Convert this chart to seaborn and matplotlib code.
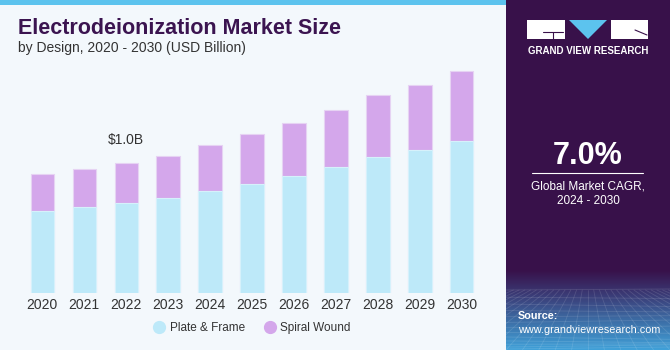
import numpy as np
import pandas as pd
import seaborn as sns
import matplotlib.pyplot as plt
from matplotlib.colors import LinearSegmentedColormap
from matplotlib.lines import Line2D

# data (USD Billion)
years = ["2020", "2021", "2022", "2023", "2024", "2025", "2026", "2027", "2028", "2029", "2030"]
plate_frame = [0.63, 0.66, 0.69, 0.73, 0.785, 0.84, 0.90, 0.97, 1.045, 1.10, 1.17]
spiral_wound = [0.28, 0.29, 0.31, 0.325, 0.35, 0.38, 0.405, 0.435, 0.475, 0.50, 0.535]
segments = ["Plate & Frame", "Spiral Wound"]
colors = ["#BDE9F9", "#D4A7EB"]

df = pd.DataFrame({"year": years, "Plate & Frame": plate_frame, "Spiral Wound": spiral_wound})
df["total"] = df["Plate & Frame"] + df["Spiral Wound"]

sns.set_theme(style="white")
plt.rcParams["font.family"] = ["Liberation Sans", "DejaVu Sans"]

W, H = 670, 350
fig = plt.figure(figsize=(6.7, 3.5), dpi=100)
fig.patch.set_facecolor("#F3F8FC")

# top blue stripe over the left panel
fig.add_artist(plt.Rectangle((0, 1 - 5 / H), 506 / W, 5 / H, transform=fig.transFigure,
                             color="#5CC3EE", lw=0, zorder=-2))

# right purple panel
fig.add_artist(plt.Rectangle((506 / W, 0), 1 - 506 / W, 1, transform=fig.transFigure,
                             color="#38114A", lw=0, zorder=-2))
grad_ax = fig.add_axes([506 / W, 0, 1 - 506 / W, 80 / H])
cmap = LinearSegmentedColormap.from_list("g", ["#40A0D8", "#3D72AA", "#3B3F7A", "#38114A"])
grad_ax.imshow(np.linspace(0, 1, 100).reshape(-1, 1), aspect="auto", cmap=cmap,
               origin="lower", extent=(0, 1, 0, 1))
# faint grid texture
for k in range(14):
    y = (k / 13) ** 1.6 * 0.75
    grad_ax.plot([0, 1], [y, y + 0.03 * np.sin(k)], color="white", alpha=0.12, lw=0.6)
for k in range(-8, 20):
    x0 = k / 10
    grad_ax.plot([x0, 0.5 + (x0 - 0.5) * 0.35], [0, 0.75], color="white", alpha=0.12, lw=0.6)
grad_ax.set_xlim(0, 1)
grad_ax.set_ylim(0, 1)
grad_ax.axis("off")

# main chart
ax = fig.add_axes([21.3 / W, (H - 292.7) / H, 461.5 / W, 232.7 / H])
ax.set_facecolor("#F3F8FC")
sns.barplot(data=df, x="year", y="total", color=colors[1], width=0.556, saturation=1,
            edgecolor="#E6D3F3", linewidth=0.8, ax=ax)
sns.barplot(data=df, x="year", y="Plate & Frame", color=colors[0], width=0.556, saturation=1,
            edgecolor="#D6F1FB", linewidth=0.8, ax=ax)
ax.set_xlim(-0.5, 10.5)
ax.set_ylim(0, 232.7 / 130)
ax.set_xlabel("")
ax.set_ylabel("")
ax.set_yticks([])
ax.tick_params(axis="x", length=0, pad=4, labelsize=10, labelcolor="#333333")
for s in ax.spines.values():
    s.set_visible(False)

i22 = years.index("2022")
ax.annotate("$1.0B", (i22, df["total"][i22]), xytext=(0, 16), textcoords="offset points",
            ha="center", va="center", fontsize=10, color="#333333")

# legend
handles = [Line2D([], [], marker="o", ls="", markersize=8.5, color=c) for c in colors]
fig.legend(handles, segments, loc="center", bbox_to_anchor=(252 / W, 1 - 328 / H),
           ncol=2, frameon=False, fontsize=8.5, handlelength=1.0, handletextpad=0.4,
           columnspacing=1.6, labelcolor="#333333")

# titles
fig.text(18 / W, 1 - 29 / H, "Electrodeionization Market Size", fontsize=15.5,
         fontweight="bold", color="#3B1450", va="center")
fig.text(18 / W, 1 - 48 / H, "by Design, 2020 - 2030 (USD Billion)", fontsize=10,
         color="#333333", va="center")

# logo
cx = 588 / W
for x0, w in [(527, 38), (611, 37)]:
    fig.add_artist(plt.Rectangle((x0 / W, 1 - 39 / H), w / W, 19 / H,
                                 transform=fig.transFigure, color="white", lw=0))
fig.add_artist(Line2D([543 / W, 563 / W], [1 - 32 / H, 1 - 32 / H], color="#38114A",
                      lw=0.8, transform=fig.transFigure))
fig.add_artist(Line2D([553 / W, 553 / W], [1 - 32 / H, 1 - 39 / H], color="#38114A",
                      lw=0.8, transform=fig.transFigure))
fig.add_artist(Line2D([635 / W, 647 / W], [1 - 30 / H, 1 - 35 / H], color="#38114A",
                      lw=0.8, transform=fig.transFigure))
fig.add_artist(plt.Polygon([(569 / W, 1 - 20 / H), (607 / W, 1 - 20 / H), (588 / W, 1 - 39 / H)],
                           closed=True, transform=fig.transFigure, color="#5CC3EE", lw=0))
fig.text(cx, 1 - 51 / H, "GRAND VIEW RESEARCH", fontsize=7, fontweight="bold",
         color="white", ha="center", va="center")

# CAGR
fig.text(cx, 1 - 156 / H, "7.0%", fontsize=22, fontweight="bold", color="white",
         ha="center", va="center")
fig.add_artist(Line2D([532 / W, 643 / W], [1 - 173 / H, 1 - 173 / H], color="white",
                      lw=0.8, transform=fig.transFigure))
fig.text(cx, 1 - 186 / H, "Global Market CAGR,", fontsize=8.5, color="white",
         ha="center", va="center")
fig.text(cx, 1 - 201 / H, "2024 - 2030", fontsize=8.5, color="white",
         ha="center", va="center")

# source
fig.text(518 / W, 1 - 316 / H, "Source:", fontsize=7.8, fontweight="bold", color="white",
         va="center")
fig.text(518 / W, 1 - 330 / H, "www.grandviewresearch.com", fontsize=7.8, color="white",
         va="center")

fig.savefig("out.png", dpi=100, facecolor=fig.get_facecolor())
